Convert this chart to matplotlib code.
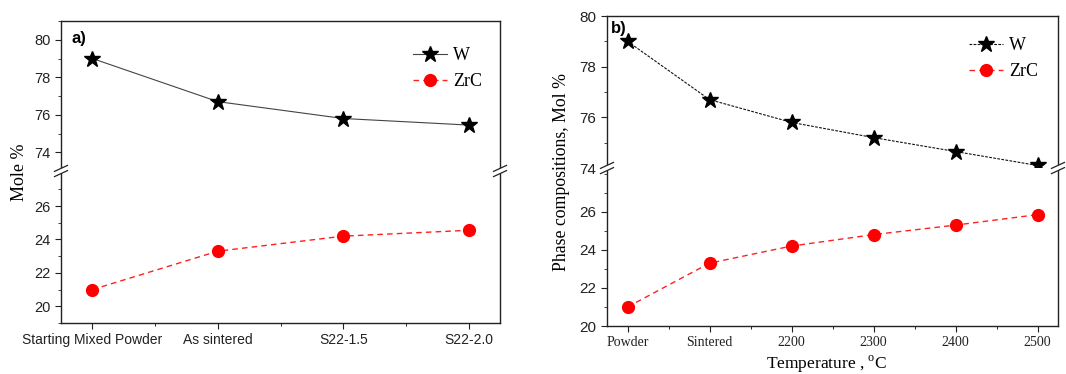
import matplotlib
matplotlib.use("Agg")
import matplotlib.pyplot as plt
from matplotlib.lines import Line2D
from matplotlib.patches import Polygon
from matplotlib.ticker import MultipleLocator, FixedLocator

plt.rcParams['mathtext.fontset'] = 'custom'
plt.rcParams['mathtext.rm'] = 'Liberation Serif'

# ---- data ----
cats_a = ["Starting Mixed Powder", "As sintered", "S22-1.5", "S22-2.0"]
w_a = [79.0, 76.7, 75.8, 75.45]
zrc_a = [21.0, 23.3, 24.2, 24.55]

cats_b = ["Powder", "Sintered", "2200", "2300", "2400", "2500"]
w_b = [79.0, 76.7, 75.8, 75.2, 74.65, 74.1]
zrc_b = [21.0, 23.3, 24.2, 24.8, 25.3, 25.85]

W, H = 1066, 374
fig = plt.figure(figsize=(W / 100, H / 100), dpi=100)

SANS = 'Liberation Sans'
SERIF = 'Liberation Serif'


def fx(x):
    return x / W


def fy(y):
    return 1 - y / H


def make_panel(xl, xr, yt, ym, yb, cats, w, zrc, up_lim, lo_lim, up_ticks, lo_ticks,
               w_ls, w_color, xtick_font, xtick_size, ytick_size):
    ax_up = fig.add_axes([fx(xl), fy(ym), fx(xr) - fx(xl), fy(yt) - fy(ym)])
    ax_lo = fig.add_axes([fx(xl), fy(yb), fx(xr) - fx(xl), fy(ym) - fy(yb)])
    n = len(cats)
    xs = list(range(n))
    for ax in (ax_up, ax_lo):
        ax.plot(xs, w, linestyle=w_ls, color=w_color, lw=0.8, marker='*',
                markersize=12, markerfacecolor='black', markeredgecolor='black',
                label='W')
        ax.plot(xs, zrc, linestyle=(0, (4, 3)), color='#ff2020', lw=1.0, marker='o',
                markersize=8.5, markerfacecolor='#ff0000', markeredgecolor='#ff0000',
                label='ZrC')
        ax.set_xlim(-0.25, n - 1 + 0.25)
        for s in ax.spines.values():
            s.set_linewidth(1.0)
            s.set_color('#222222')
        ax.tick_params(axis='y', which='both', direction='out', left=True, right=False,
                       labelsize=ytick_size, colors='#222222')
        ax.tick_params(axis='y', which='major', length=4)
        ax.tick_params(axis='y', which='minor', length=2.5)
        ax.yaxis.set_minor_locator(MultipleLocator(1))
    ax_up.set_ylim(*up_lim)
    ax_lo.set_ylim(*lo_lim)
    ax_up.yaxis.set_major_locator(FixedLocator(up_ticks))
    ax_lo.yaxis.set_major_locator(FixedLocator(lo_ticks))
    for ax in (ax_up, ax_lo):
        for lab in ax.get_yticklabels():
            lab.set_family(SANS)
    ax_up.spines['bottom'].set_visible(False)
    ax_lo.spines['top'].set_visible(False)
    ax_up.tick_params(axis='x', which='both', bottom=False, labelbottom=False, top=False)
    ax_lo.set_xticks(xs)
    ax_lo.set_xticklabels(cats, fontfamily=xtick_font, fontsize=xtick_size)
    ax_lo.set_xticks([i + 0.5 for i in range(n - 1)], minor=True)
    ax_lo.tick_params(axis='x', which='major', direction='out', length=4, top=False,
                      colors='#222222')
    ax_lo.tick_params(axis='x', which='minor', direction='out', length=2.5, top=False)
    return ax_up, ax_lo


def break_mark(x, y):
    # white gap on spine and two slanted lines
    dx, dy, gap = 6.5, 3.0, 2.6
    poly = Polygon([(fx(x - dx), fy(y + dy - gap)), (fx(x + dx), fy(y - dy - gap)),
                    (fx(x + dx), fy(y - dy + gap)), (fx(x - dx), fy(y + dy + gap))],
                   closed=True, transform=fig.transFigure, facecolor='white',
                   edgecolor='none', zorder=10)
    fig.add_artist(poly)
    for s in (-gap, gap):
        fig.add_artist(Line2D([fx(x - dx), fx(x + dx)], [fy(y + dy + s), fy(y - dy + s)],
                              transform=fig.transFigure, color='#222222', lw=0.9,
                              zorder=11))


# ---- panel a ----
a_up, a_lo = make_panel(61, 500, 21, 171, 323, cats_a, w_a, zrc_a,
                        (73, 81), (19, 28.1), [74, 76, 78, 80], [20, 22, 24, 26],
                        '-', '#444444', SANS, 10, 10.5)
break_mark(61, 171)
break_mark(500, 171)
fig.text(fx(20), fy(172), 'Mole %', rotation=90, ha='center', va='center',
         fontfamily=SERIF, fontsize=13)
fig.text(fx(72), fy(38), 'a)', fontweight='bold', fontfamily=SANS, fontsize=12,
         ha='left', va='center')
a_up.legend(loc='upper left', bbox_to_anchor=((413 - 61) / 439, (171 - 47) / 150),
            frameon=False, borderpad=0, borderaxespad=0, handlelength=1.9,
            handletextpad=0.3, labelspacing=0.5, prop={'family': SERIF, 'size': 13})

# ---- panel b ----
b_up, b_lo = make_panel(607, 1058, 16, 168, 326, cats_b, w_b, zrc_b,
                        (74, 80), (20, 28.3), [74, 76, 78, 80], [20, 22, 24, 26],
                        (0, (2.5, 1.2)), '#111111', SERIF, 10, 11)
break_mark(607, 168)
break_mark(1058, 168)
fig.text(fx(561), fy(172), 'Phase compositions, Mol %', rotation=90, ha='center',
         va='center', fontfamily=SERIF, fontsize=12.8)
fig.text(fx(827), fy(364), 'Temperature , $^{\\mathrm{o}}$C', ha='center', va='center',
         fontfamily=SERIF, fontsize=12.5)
fig.text(fx(611), fy(28), 'b)', fontweight='bold', fontfamily=SANS, fontsize=12,
         ha='left', va='center')
b_up.legend(loc='upper left', bbox_to_anchor=((969 - 607) / 451, (168 - 37) / 152),
            frameon=False, borderpad=0, borderaxespad=0, handlelength=1.9,
            handletextpad=0.3, labelspacing=0.5, prop={'family': SERIF, 'size': 13})

fig.savefig('out.png', dpi=100, facecolor='white')
